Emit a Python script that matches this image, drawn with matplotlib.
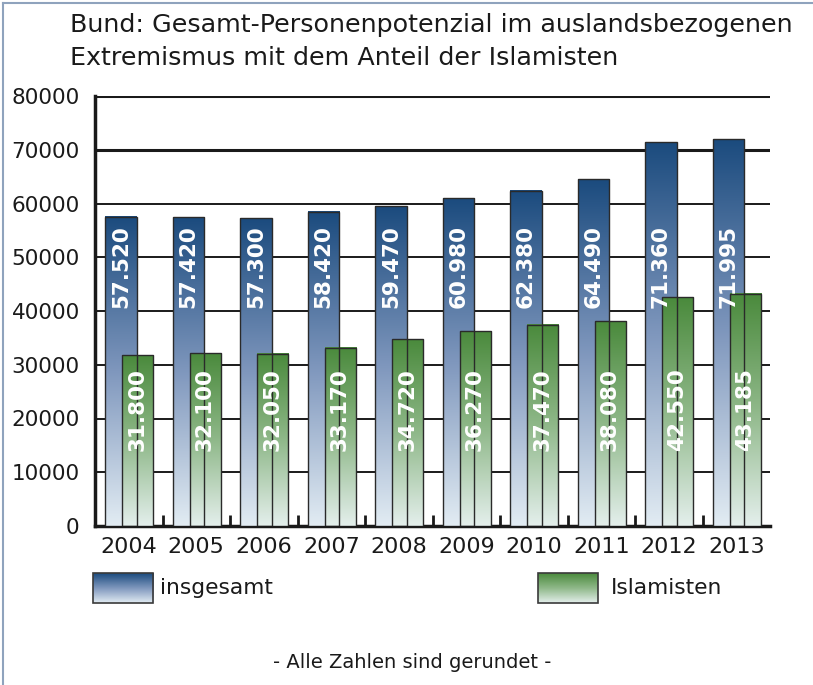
import numpy as np
import matplotlib.pyplot as plt
from matplotlib.patches import Rectangle
from matplotlib.colors import LinearSegmentedColormap

years = ["2004", "2005", "2006", "2007", "2008", "2009", "2010", "2011", "2012", "2013"]
insgesamt = [57520, 57420, 57300, 58420, 59470, 60980, 62380, 64490, 71360, 71995]
islamisten = [31800, 32100, 32050, 33170, 34720, 36270, 37470, 38080, 42550, 43185]
labels_ins = ["57.520", "57.420", "57.300", "58.420", "59.470", "60.980", "62.380", "64.490", "71.360", "71.995"]
labels_isl = ["31.800", "32.100", "32.050", "33.170", "34.720", "36.270", "37.470", "38.080", "42.550", "43.185"]

blue_cmap = LinearSegmentedColormap.from_list("b", ["#e2ecf3", "#7f97bd", "#1b4b7e"])
green_cmap = LinearSegmentedColormap.from_list("g", ["#e4efec", "#8fb889", "#4a8a3c"])
grad = np.linspace(0, 1, 256).reshape(-1, 1)

fig = plt.figure(figsize=(8.13, 6.85), dpi=100)
ax = fig.add_axes([95 / 813, 1 - 526 / 685, 675 / 813, 430 / 685])

def gradient_bar(x0, w, h, cmap):
    ax.imshow(grad, extent=(x0, x0 + w, 0, h), origin="lower", cmap=cmap,
              aspect="auto", zorder=3, interpolation="bilinear")
    ax.add_patch(Rectangle((x0, 0), w, h, fill=False, edgecolor="#2a2a2a",
                           lw=1.0, zorder=4))

for i in range(len(years)):
    gradient_bar(i + 0.15, 0.47, insgesamt[i], blue_cmap)
    gradient_bar(i + 0.40, 0.46, islamisten[i], green_cmap)
    # labels sit at a fixed height inside the bars
    ax.text(i + 0.385, 40600, labels_ins[i], rotation=90, ha="center",
            va="bottom", color="white", fontsize=15.5, fontweight="bold", zorder=6)
    ax.text(i + 0.63, 13950, labels_isl[i], rotation=90, ha="center",
            va="bottom", color="white", fontsize=15.5, fontweight="bold", zorder=6)

ax.set_xlim(0, 10)
ax.set_ylim(0, 80000)
for v in range(10000, 80001, 10000):
    ax.axhline(v, color="#1a1a1a", lw=2.2 if v >= 70000 else 1.4, zorder=1)

for s in ["top", "right"]:
    ax.spines[s].set_visible(False)
ax.spines["left"].set_linewidth(2.5)
ax.spines["bottom"].set_linewidth(2.5)
ax.spines["left"].set_color("#1a1a1a")
ax.spines["bottom"].set_color("#1a1a1a")

ax.set_yticks(range(0, 80001, 10000))
ax.set_yticklabels([str(v) for v in range(0, 80001, 10000)], fontsize=15.5, color="#1a1a1a")
ax.tick_params(axis="y", length=0, pad=11)
ax.set_xticks(np.arange(1, 10))
ax.set_xticklabels([])
ax.tick_params(axis="x", direction="in", length=8, width=2, color="#1a1a1a")
for i, y in enumerate(years):
    ax.text(i + 0.5, -2000, y, ha="center", va="top", fontsize=16, color="#1a1a1a")

fig.text(70 / 813, 1 - 25 / 685, "Bund: Gesamt-Personenpotenzial im auslandsbezogenen",
         ha="left", va="center", fontsize=18.3, color="#1a1a1a")
fig.text(70 / 813, 1 - 58 / 685, "Extremismus mit dem Anteil der Islamisten",
         ha="left", va="center", fontsize=18.3, color="#1a1a1a")

# legend boxes and footer
lax = fig.add_axes([0, 0, 1, 1])
lax.axis("off")
lax.imshow(grad, extent=(93, 153, 603, 573), origin="lower", cmap=blue_cmap, aspect="auto")
lax.add_patch(Rectangle((93, 573), 60, 30, fill=False, edgecolor="#3a3a3a", lw=1.2))
lax.imshow(grad, extent=(538, 598, 603, 573), origin="lower", cmap=green_cmap, aspect="auto")
lax.add_patch(Rectangle((538, 573), 60, 30, fill=False, edgecolor="#3a3a3a", lw=1.2))
lax.set_xlim(0, 813)
lax.set_ylim(685, 0)
lax.text(160, 588, "insgesamt", va="center", ha="left", fontsize=15.7, color="#1a1a1a")
lax.text(611, 588, "Islamisten", va="center", ha="left", fontsize=15.7, color="#1a1a1a")
lax.text(412, 663, "- Alle Zahlen sind gerundet -", va="center", ha="center", fontsize=14, color="#1a1a1a")
lax.plot([3, 3], [3, 685], color="#8fa3bd", lw=1.5)
lax.plot([3, 813], [3, 3], color="#8fa3bd", lw=1.5)

fig.savefig("out.png", dpi=100)
